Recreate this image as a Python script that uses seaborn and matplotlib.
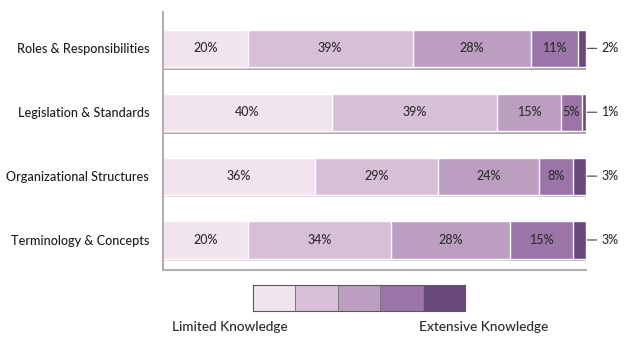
import numpy as np
import pandas as pd
import matplotlib
matplotlib.use("Agg")
import matplotlib.pyplot as plt
import seaborn as sns
from matplotlib.colors import ListedColormap

categories = ["Roles & Responsibilities", "Legislation & Standards",
              "Organizational Structures", "Terminology & Concepts"]
levels = ["L1", "L2", "L3", "L4", "L5"]
values = {
    "L1": [20, 40, 36, 20],
    "L2": [39, 39, 29, 34],
    "L3": [28, 15, 24, 28],
    "L4": [11, 5, 8, 15],
    "L5": [2, 1, 3, 3],
}
palette = ["#f2e4ef", "#d7bfd8", "#bb9ec0", "#9b74a8", "#69487d"]
legend_low = "Limited Knowledge"
legend_high = "Extensive Knowledge"

sns.set_theme(style="white")
plt.rcParams["font.family"] = ["Lato", "DejaVu Sans"]

W, H = 624, 337
fig = plt.figure(figsize=(W / 100, H / 100), dpi=100)
ax = fig.add_axes([163 / W, 1 - 270 / H, (586 - 163) / W, (270 - 12) / H])

df = pd.DataFrame(values, index=categories)
cum = df.cumsum(axis=1)
bar_h = 0.58

# subtle shadow under each bar
for i, cat in enumerate(categories):
    ax.hlines(i + bar_h / 2 + 0.012, 0, cum.loc[cat, "L5"], color="#8f8a8c",
              lw=1.8, zorder=0.5)

# stacked bars: draw cumulative totals from the outside in
for lvl, col in zip(reversed(levels), reversed(palette)):
    sns.barplot(x=cum[lvl].values, y=categories, orient="h", color=col,
                width=bar_h, edgecolor="white", linewidth=1.0, ax=ax,
                saturation=1)

# segment labels
txt = dict(fontsize=9, color="#2e2e2e", fontweight="medium")
for i, cat in enumerate(categories):
    left = 0
    for j, lvl in enumerate(levels):
        v = df.loc[cat, lvl]
        if j < 4:
            ax.text(left + v / 2, i, f"{v}%", ha="center", va="center", **txt)
        else:
            end = left + v
            ax.annotate(f"{v}%", xy=(end, i), xycoords="data",
                        xytext=(11, 0), textcoords="offset points",
                        ha="left", va="center",
                        arrowprops=dict(arrowstyle="-", color="#555555",
                                        lw=0.9, shrinkA=1, shrinkB=1), **txt)
        left += v

ax.set_xlim(0, 100)
ax.set_ylim(3.47, -0.57)
ax.set_xlabel("")
ax.set_ylabel("")
ax.set_xticks([])
ax.tick_params(axis="y", length=0, pad=10, labelsize=9.1, labelcolor="#1e1e1e")
for lab in ax.get_yticklabels():
    lab.set_fontweight("medium")
for s in ["top", "right"]:
    ax.spines[s].set_visible(False)
for s in ["left", "bottom"]:
    ax.spines[s].set_color("#b0b0b0")
    ax.spines[s].set_linewidth(1.5)

# legend as a five-cell strip
lax = fig.add_axes([253 / W, 1 - 311 / H, (465 - 253) / W, (311 - 285) / H])
sns.heatmap(np.arange(5).reshape(1, 5), cmap=ListedColormap(palette),
            cbar=False, linewidths=0.5, linecolor="#7a7a7a", ax=lax,
            xticklabels=False, yticklabels=False)
for s in lax.spines.values():
    s.set_visible(True)
    s.set_color("#5a5a5a")
    s.set_linewidth(0.8)

fig.text(172 / W, 1 - 327 / H, legend_low, ha="left", va="center",
         fontsize=9.8, color="#2a2a2a", fontweight="medium")
fig.text(548 / W, 1 - 327 / H, legend_high, ha="right", va="center",
         fontsize=9.8, color="#2a2a2a", fontweight="medium")

fig.savefig("out.png", dpi=100)
